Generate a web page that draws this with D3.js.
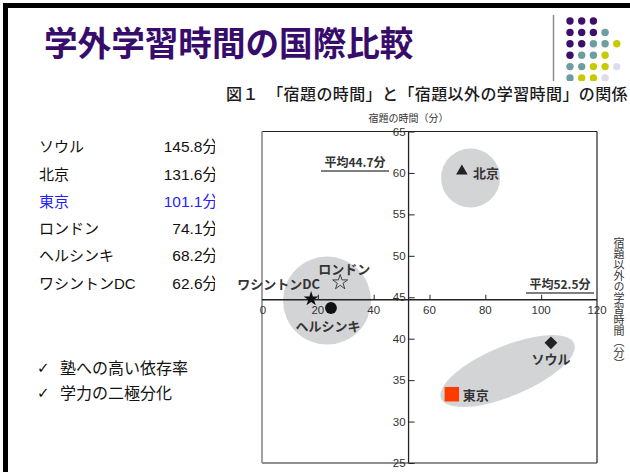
<!DOCTYPE html>
<html lang="ja">
<head>
<meta charset="utf-8">
<script src="https://cdn.jsdelivr.net/npm/d3@7"></script>
<style>
  html, body { margin: 0; padding: 0; background: #fff; }
  svg { display: block; }
</style>
</head>
<body>
<svg id="slide" width="630" height="472"></svg>
<script>
// ---- data ----
const cities       = ["ソウル", "北京", "東京", "ロンドン", "ヘルシンキ", "ワシントンDC"];
const totalMinutes = [145.8, 131.6, 101.1, 74.1, 68.2, 62.6];      // 学外学習時間（分）
const otherStudy   = [103.5, 71.6, 68.0, 28.0, 24.7, 17.6];         // 宿題以外の学習時間（分）
const homework     = [39.5, 60.2, 33.3, 46.8, 43.7, 44.8];          // 宿題の時間（分）
const meanHomework = 44.7;
const meanOther    = 52.5;
const xTicks = [0, 20, 40, 60, 80, 100, 120];
const yTicks = [25, 30, 35, 40, 45, 50, 55, 60, 65];
const points = ["塾への高い依存率", "学力の二極分化"];

const JP = "'Noto Sans CJK JP', 'Noto Sans', sans-serif";
const LIST_FONT = "'Liberation Sans', 'Noto Sans CJK JP', sans-serif";

const svg = d3.select("#slide");

// ---- slide frame ----
svg.append("rect").attr("x", 3).attr("y", 3).attr("width", 627).attr("height", 5).attr("fill", "#000");
svg.append("rect").attr("x", 3).attr("y", 3).attr("width", 5).attr("height", 469).attr("fill", "#000");

// slide title
svg.append("text")
  .attr("x", 44).attr("y", 41)
  .attr("dominant-baseline", "central")
  .attr("font-family", JP).attr("font-weight", 700).attr("font-size", 33.6)
  .attr("fill", "#380c6b")
  .text("学外学習時間の国際比較");

// decorative dot grid and divider
const dotPalette = ["#3d0f6b", "#6b9e9f", "#c9c900", "#dcdcee"];
const dotRows = [[0,0,0],[0,0,0,1],[0,0,1,1,2],[0,1,1,2],[1,1,2,2,3],[1,2,2,3]];
svg.append("line").attr("x1", 553.5).attr("x2", 553.5).attr("y1", 15).attr("y2", 84)
  .attr("stroke", "#8c8c8c").attr("stroke-width", 1.5);
dotRows.forEach((row, i) => {
  svg.append("g").selectAll("circle").data(row).join("circle")
    .attr("cx", (d, j) => 570 + j * 11.7)
    .attr("cy", 21 + i * 11.4)
    .attr("r", 3.7)
    .attr("fill", d => dotPalette[d]);
});

// ---- left-hand list of totals ----
const list = svg.append("g");
cities.forEach((c, i) => {
  const col = c === "東京" ? "#1f1fff" : "#111";
  const yy = 146.7 + i * 27.3;
  list.append("text").attr("x", 39).attr("y", yy).attr("dominant-baseline", "central")
    .attr("font-family", LIST_FONT).attr("font-size", 15).attr("fill", col).text(c);
  list.append("text").attr("x", 218).attr("y", yy).attr("dominant-baseline", "central")
    .attr("text-anchor", "end")
    .attr("font-family", LIST_FONT).attr("font-size", 15.5).attr("fill", col)
    .text(totalMinutes[i].toFixed(1) + "分");
});
points.forEach((p, i) => {
  const yy = 368 + i * 25;
  list.append("text").attr("x", 37).attr("y", yy).attr("dominant-baseline", "central")
    .attr("font-family", "'DejaVu Sans', sans-serif").attr("font-size", 15).attr("fill", "#111").text("✓");
  list.append("text").attr("x", 60).attr("y", yy).attr("dominant-baseline", "central")
    .attr("font-family", LIST_FONT).attr("font-size", 16).attr("fill", "#111").text(p);
});

// ---- figure ----
const fig = svg.append("g");
fig.append("rect").attr("x", 215).attr("y", 81).attr("width", 415).attr("height", 391).attr("fill", "#fff");

fig.append("text")
  .attr("x", 226).attr("y", 93).attr("dominant-baseline", "central")
  .attr("font-family", JP).attr("font-weight", 500).attr("font-size", 16)
  .attr("letter-spacing", 0.4).attr("fill", "#1a1a1a")
  .text("図１　「宿題の時間」と「宿題以外の学習時間」の関係");

const x = d3.scaleLinear().domain([0, 120]).range([262, 597]);
const y = d3.scaleLinear().domain([25, 65]).range([463, 131.5]);

// cluster highlights (centres in data units, radii in px)
const grey = "#d3d4d6";
fig.append("circle").attr("cx", x(23.3)).attr("cy", y(44.6)).attr("r", 44).attr("fill", grey);
fig.append("circle").attr("cx", x(74.7)).attr("cy", y(59.4)).attr("r", 29.5).attr("fill", grey);
fig.append("ellipse")
  .attr("transform", `translate(${x(88.0)},${y(36.1)}) rotate(-22.5)`)
  .attr("rx", 72).attr("ry", 25).attr("fill", grey);

// plot frame
fig.append("line").attr("x1", x(0)).attr("x2", x(120)).attr("y1", y(65)).attr("y2", y(65)).attr("stroke", "#222").attr("stroke-width", 1.2);
fig.append("line").attr("x1", x(0)).attr("x2", x(120)).attr("y1", y(25)).attr("y2", y(25)).attr("stroke", "#222").attr("stroke-width", 1.2);
fig.append("line").attr("x1", x(120)).attr("x2", x(120)).attr("y1", y(65)).attr("y2", y(25)).attr("stroke", "#222").attr("stroke-width", 1.2);
fig.append("line").attr("x1", x(0)).attr("x2", x(0)).attr("y1", y(65)).attr("y2", y(25)).attr("stroke", "#8a8a8a").attr("stroke-width", 1.6);

// x axis along the mean homework time
const xAxis = fig.append("g").attr("transform", `translate(0,${y(meanHomework)})`)
  .call(d3.axisTop(x).tickValues(xTicks.filter(v => v > 0 && v < 120)).tickSize(5).tickFormat(""));
xAxis.select(".domain").remove();
xAxis.selectAll("line").attr("stroke", "#222");
fig.append("line").attr("x1", x(0)).attr("x2", x(120)).attr("y1", y(meanHomework)).attr("y2", y(meanHomework))
  .attr("stroke", "#222").attr("stroke-width", 1.3);
fig.append("g").selectAll("text").data(xTicks).join("text")
  .attr("x", d => x(d) + (d === 0 ? 1 : 0)).attr("y", y(meanHomework) + 10)
  .attr("text-anchor", "middle").attr("dominant-baseline", "central")
  .attr("font-family", "'Liberation Sans', sans-serif").attr("font-size", 11.5).attr("fill", "#333")
  .text(d => d);

// y axis along the mean non-homework time
const yAxis = fig.append("g").attr("transform", `translate(${x(meanOther)},0)`)
  .call(d3.axisRight(y).tickValues(yTicks).tickSize(6).tickFormat(""));
yAxis.select(".domain").remove();
yAxis.selectAll("line").attr("stroke", "#222");
fig.append("line").attr("x1", x(meanOther)).attr("x2", x(meanOther)).attr("y1", y(65)).attr("y2", y(25))
  .attr("stroke", "#222").attr("stroke-width", 1.3);
fig.append("g").selectAll("text").data(yTicks).join("text")
  .attr("x", x(meanOther) - 3).attr("y", d => y(d))
  .attr("text-anchor", "end").attr("dominant-baseline", "central")
  .attr("font-family", "'Liberation Sans', sans-serif").attr("font-size", 11.5).attr("fill", "#333")
  .text(d => d);

// axis titles
fig.append("text").attr("x", x(meanOther)).attr("y", 117)
  .attr("text-anchor", "middle").attr("dominant-baseline", "central")
  .attr("font-family", JP).attr("font-size", 10).attr("fill", "#333")
  .text("宿題の時間（分）");
fig.append("text").attr("x", 619).attr("y", 237)
  .style("writing-mode", "vertical-rl")
  .attr("font-family", JP).attr("font-size", 11).attr("fill", "#333")
  .text("宿題以外の学習時間（分）");

// mean annotations
function meanLabel(cx, cy, txt) {
  fig.append("text").attr("x", cx).attr("y", cy).attr("text-anchor", "middle").attr("dominant-baseline", "central")
    .attr("font-family", JP).attr("font-weight", 700).attr("font-size", 12).attr("fill", "#333").text(txt);
  fig.append("line").attr("x1", cx - 34).attr("x2", cx + 34).attr("y1", cy + 9.5).attr("y2", cy + 9.5)
    .attr("stroke", "#555").attr("stroke-width", 1.5);
}
meanLabel(355, 161.5, "平均" + meanHomework + "分");
meanLabel(560, 283.5, "平均" + meanOther + "分");

// city markers
const markStyle = {
  "ソウル":       { sym: d3.symbolSquare,   size: 82,  fill: "#222", rot: 45, dx: 0,   dy: 16, anchor: "middle" },
  "北京":         { sym: d3.symbolTriangle, size: 58,  fill: "#222", rot: 0,  dx: 11,  dy: 1,  anchor: "start" },
  "東京":         { sym: d3.symbolSquare,   size: 210, fill: "#ff3a00", rot: 0, dx: 11, dy: 0,  anchor: "start" },
  "ロンドン":     { sym: d3.symbolStar,     size: 70,  fill: "none", rot: 0,  dx: 4,   dy: -14, anchor: "middle" },
  "ヘルシンキ":   { sym: d3.symbolCircle,   size: 110, fill: "#111", rot: 0,  dx: -3,  dy: 17, anchor: "middle" },
  "ワシントンDC": { sym: d3.symbolStar,     size: 70,  fill: "#111", rot: 0,  dx: 9,   dy: -15, anchor: "end" }
};
cities.forEach((c, i) => {
  const s = markStyle[c];
  const px = x(otherStudy[i]), py = y(homework[i]);
  fig.append("path")
    .attr("d", d3.symbol(s.sym, s.size)())
    .attr("transform", `translate(${px},${py}) rotate(${s.rot})`)
    .attr("fill", s.fill)
    .attr("stroke", s.fill === "none" ? "#333" : "none")
    .attr("stroke-width", 0.9);
  fig.append("text")
    .attr("x", px + s.dx).attr("y", py + s.dy)
    .attr("text-anchor", s.anchor).attr("dominant-baseline", "central")
    .attr("font-family", JP).attr("font-weight", 700).attr("font-size", 13).attr("fill", "#333")
    .text(c);
});
</script>
</body>
</html>
